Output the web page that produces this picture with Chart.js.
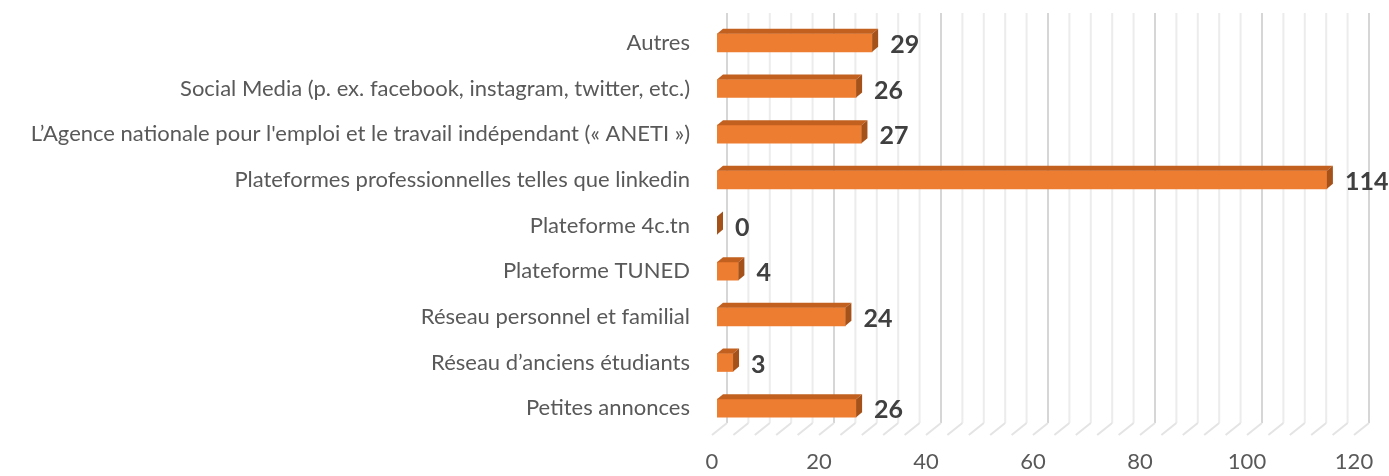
<!DOCTYPE html>
<html>
<head>
<meta charset="utf-8">
<script src="https://cdn.jsdelivr.net/npm/chart.js@4/dist/chart.umd.min.js"></script>
<style>
  html, body { margin: 0; padding: 0; background: #fff; }
  #wrap { width: 1389px; height: 476px; }
</style>
</head>
<body>
<div id="wrap"><canvas id="chartCanvas" width="1389" height="476"></canvas></div>
<script>
// categories, top to bottom as shown
const categories = [
    'Autres',
    'Social Media (p. ex. facebook, instagram, twitter, etc.)',
    "L\u2019Agence nationale pour l'emploi et le travail ind\u00e9pendant (\u00ab ANETI \u00bb)",
    'Plateformes professionnelles telles que linkedin',
    'Plateforme 4c.tn',
    'Plateforme TUNED',
    'R\u00e9seau personnel et familial',
    'R\u00e9seau d\u2019anciens \u00e9tudiants',
    'Petites annonces'
];
const counts = [29, 26, 27, 114, 0, 4, 24, 3, 26];
const xTicks = [0, 20, 40, 60, 80, 100, 120];

const DEPTH_X = 6, DEPTH_Y = 5;      // bar 3D depth
const WALL_X = 10, FLOOR_Y = 8;      // back wall offset

// grid lines on the back wall + floor diagonals
const wallGrid = {
    id: 'wallGrid',
    beforeDatasetsDraw(chart) {
        const ctx = chart.ctx;
        const xs = chart.scales.x;
        const area = chart.chartArea;
        const floorBack = area.bottom - FLOOR_Y;
        ctx.save();
        ctx.lineWidth = 2;
        for (let v = 0; v <= 120; v += 4) {
            const px = xs.getPixelForValue(v);
            ctx.strokeStyle = v % 20 === 0 ? '#d6d6d6' : '#ececec';
            ctx.beginPath();
            ctx.moveTo(px + WALL_X, area.top - 7);
            ctx.lineTo(px + WALL_X, floorBack);
            ctx.stroke();
            ctx.strokeStyle = '#e4e4e4';
            ctx.beginPath();
            ctx.moveTo(px + WALL_X, floorBack);
            ctx.lineTo(px - 5, area.bottom + 4);
            ctx.stroke();
        }
        ctx.restore();
    }
};

// top and right faces of the bars, plus value labels
const bars3d = {
    id: 'bars3d',
    afterDatasetsDraw(chart) {
        const ctx = chart.ctx;
        const meta = chart.getDatasetMeta(0);
        ctx.save();
        meta.data.forEach((bar, i) => {
            const p = bar.getProps(['x', 'y', 'base', 'height'], true);
            const top = p.y - p.height / 2;
            const bot = p.y + p.height / 2;
            ctx.fillStyle = '#c2601f';
            ctx.beginPath();
            ctx.moveTo(p.base, top);
            ctx.lineTo(p.x, top);
            ctx.lineTo(p.x + DEPTH_X, top - DEPTH_Y);
            ctx.lineTo(p.base + DEPTH_X, top - DEPTH_Y);
            ctx.closePath();
            ctx.fill();
            ctx.fillStyle = '#a5511a';
            ctx.beginPath();
            ctx.moveTo(p.x, top);
            ctx.lineTo(p.x + DEPTH_X, top - DEPTH_Y);
            ctx.lineTo(p.x + DEPTH_X, bot - DEPTH_Y);
            ctx.lineTo(p.x, bot);
            ctx.closePath();
            ctx.fill();

            ctx.fillStyle = '#404040';
            ctx.font = 'bold 25px Lato';
            ctx.textAlign = 'left';
            ctx.textBaseline = 'middle';
            ctx.fillText(String(counts[i]), p.x + DEPTH_X + 12, p.y + 2);
        });
        ctx.restore();
    }
};

new Chart(document.getElementById('chartCanvas'), {
    type: 'bar',
    data: {
        labels: categories,
        datasets: [{
            data: counts,
            backgroundColor: '#ed7d31',
            barThickness: 18,
            borderWidth: 0
        }]
    },
    options: {
        indexAxis: 'y',
        responsive: false,
        animation: false,
        layout: { padding: { top: 20, right: 30, bottom: 0, left: 0 } },
        plugins: { legend: { display: false }, tooltip: { enabled: false } },
        scales: {
            x: {
                min: 0,
                max: 120,
                afterBuildTicks(scale) { scale.ticks = xTicks.map(v => ({ value: v })); },
                afterFit(scale) { scale.height = 45; },
                grid: { display: false },
                border: { display: false },
                ticks: {
                    color: '#595959',
                    font: { family: 'Lato', size: 22 },
                    padding: 10,
                    labelOffset: -5,
                    maxRotation: 0
                }
            },
            y: {
                afterFit(scale) {
                    scale.width = 717;
                    scale.paddingTop = 0;
                    scale.paddingBottom = 0;
                },
                grid: { display: false, drawTicks: false },
                border: { display: false },
                ticks: {
                    color: '#595959',
                    font: { family: 'Lato', size: 22 },
                    padding: 27
                }
            }
        }
    },
    plugins: [wallGrid, bars3d]
});
</script>
</body>
</html>
